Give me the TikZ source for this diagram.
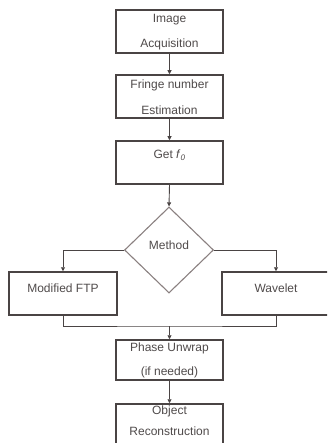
\documentclass[tikz,border=0pt]{standalone}
\usepackage{fontspec}
\setmainfont{Liberation Sans}
\usetikzlibrary{shapes.geometric,arrows.meta}
\definecolor{lineC}{HTML}{4A4444}
\definecolor{diaC}{HTML}{8A8080}
\definecolor{txtC}{HTML}{4F4A4A}
\begin{document}
\begin{tikzpicture}[x=1pt,y=-1pt,
  box/.style={draw=lineC,line width=1.5pt,minimum width=107pt,minimum height=43pt,inner sep=0pt},
  lbl/.style={text=txtC,font=\fontsize{12}{13}\selectfont,inner sep=0pt},
  conn/.style={draw=lineC,line width=0.9pt},
  arr/.style={conn,-{Triangle[length=4pt,width=4pt]}}]
\useasboundingbox (0,0) rectangle (327,443);
\begin{scope}
\clip (0,0) rectangle (327,443);
\node[box] (b1) at (169.5,31.5) {};
\node[box] (b2) at (169.5,96.5) {};
\node[box] (b3) at (169.5,162.5) {};
\node[draw=diaC,line width=1.1pt,shape=diamond,minimum width=89pt,minimum height=86pt,inner sep=0pt] (d) at (169,250) {};
\node[box,minimum width=108pt] (ftp) at (63,293.5) {};
\node[box,minimum width=108pt] (wav) at (276,293.5) {};
\node[box,minimum height=40pt] (pu) at (169.5,360) {};
\node[box] (obj) at (169.5,425.5) {};
\coordinate (m) at (169.5,326);

\node[lbl] (t1a) at (169.5,20) {Image};
\node[lbl] (t1b) at (169.5,44) {Acquisition};
\node[lbl] (t2a) at (169.5,85) {Fringe number};
\node[lbl] (t2b) at (169.5,110) {Estimation};
\node[lbl] (t3) at (169.5,155) {Get \textit{f}\textsubscript{\textit{0}}};
\node[lbl] (t4) at (169,245) {Method};
\node[lbl] (t5) at (63,288) {Modified FTP};
\node[lbl] (t6) at (276,288) {Wavelet};
\node[lbl] (t7a) at (169.5,348) {Phase Unwrap};
\node[lbl] (t7b) at (169.5,372) {(if needed)};
\node[lbl] (t8a) at (169.5,411) {Object};
\node[lbl] (t8b) at (169.5,431) {Reconstruction};

\draw[arr] (b1.south) -- (b2.north);
\draw[arr] (b2.south) -- (b3.north);
\draw[arr] (b3.south) -- (d.north);
\draw[arr] (d.west) -| (ftp.north);
\draw[arr] (d.east) -| (wav.north);
\draw[conn] (ftp.south) |- (m) -| (wav.south);
\draw[arr] (m) -- (pu.north);
\draw[arr] (pu.south) -- (obj.north);
\end{scope}
\end{tikzpicture}
\end{document}
